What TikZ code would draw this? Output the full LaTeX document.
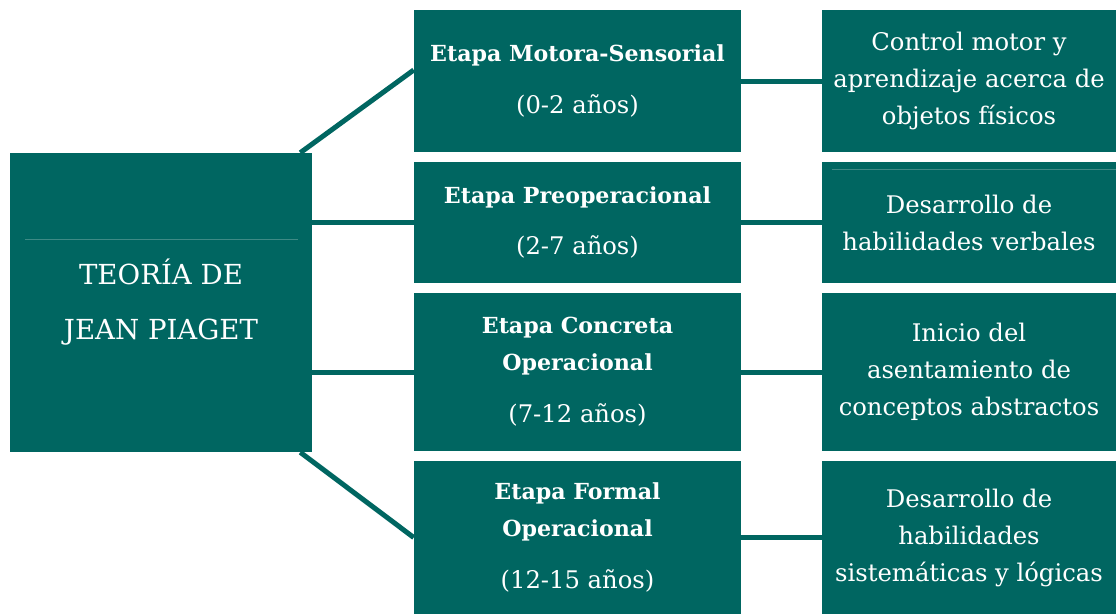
\documentclass[tikz,border=0pt]{standalone}
\usepackage{fontspec}
\setmainfont{DejaVu Serif}
\usetikzlibrary{backgrounds}
\definecolor{piagetteal}{HTML}{006661}
\definecolor{edgeteal}{HTML}{3E8A85}
\newcommand\agespan[1]{{\fontsize{18.2}{27.75}\selectfont #1}}
\tikzset{
  stage/.style={fill=piagetteal, text=white, align=center, inner sep=0pt,
    minimum width=245.25pt, font=\fontsize{16.6}{27.75}\selectfont},
  detail/.style={fill=piagetteal, text=white, align=center, inner sep=0pt,
    minimum width=220.5pt, font=\fontsize{18.2}{27.75}\selectfont},
  link/.style={draw=piagetteal, line width=3.75pt},
}
\begin{document}
\begin{tikzpicture}[x=0.75pt, y=-0.75pt]
        \useasboundingbox (0,0) rectangle (1116,614);
        \node[fill=piagetteal, text=white, align=center, inner sep=0pt, minimum width=226.5pt, minimum height=224.25pt, font=\fontsize{20.7}{41.25}\selectfont] at (161,302.5) (teoria) {TEORÍA DE\\JEAN PIAGET};
        \node[stage, minimum height=106.5pt] at (577.5,81) (motora) {\textbf{Etapa Motora-Sensorial}\\[11pt]\agespan{(0-2 años)}};
        \node[stage, minimum height=90.75pt] at (577.5,222.5) (preop) {\textbf{Etapa Preoperacional}\\[11pt]\agespan{(2-7 años)}};
        \node[stage, minimum height=118.5pt] at (577.5,372) (concreta) {\textbf{Etapa Concreta}\\\textbf{Operacional}\\[11pt]\agespan{(7-12 años)}};
        \node[stage, minimum height=114.75pt] at (577.5,537.5) (formal) {\textbf{Etapa Formal}\\\textbf{Operacional}\\[11pt]\agespan{(12-15 años)}};
        \node[detail, minimum height=106.5pt] at (969,81) (fisicos) {Control motor y\\aprendizaje acerca de\\objetos físicos};
        \node[detail, minimum height=90.75pt] at (969,222.5) (verbales) {Desarrollo de\\habilidades verbales};
        \node[detail, minimum height=118.5pt] at (969,372) (abstractos) {Inicio del\\asentamiento de\\conceptos abstractos};
        \node[detail, minimum height=114.75pt] at (969,537.5) (logicas) {Desarrollo de\\habilidades\\sistemáticas y lógicas};

        \draw[edgeteal, line width=0.75pt] (25,239) -- (298,239);
        \draw[edgeteal, line width=0.75pt] (832,169) -- (1116,169);

        \begin{scope}[on background layer]
        \draw[link] ([xshift=-9pt]teoria.north east) -- ([yshift=8.25pt]motora.west);
        \draw[link] (teoria.east |- preop.west) -- (preop.west);
        \draw[link] (teoria.east |- concreta.west) -- (concreta.west);
        \draw[link] ([xshift=-9pt]teoria.south east) -- (formal.west);
        \draw[link] (motora)--(fisicos);
        \draw[link] (preop)--(verbales);
        \draw[link] (concreta)--(abstractos);
        \draw[link] (formal)--(logicas);
        \end{scope}
      \end{tikzpicture}
\end{document}
